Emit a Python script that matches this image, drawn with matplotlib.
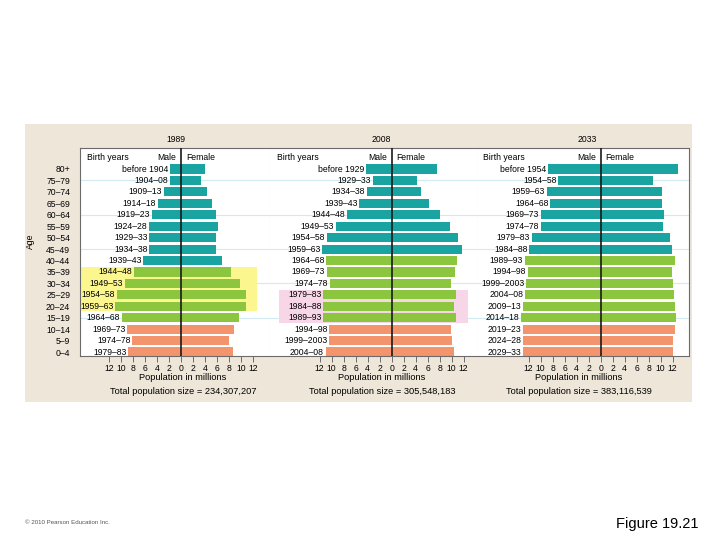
import matplotlib
matplotlib.use('Agg')
import matplotlib.pyplot as plt
from matplotlib.patches import Rectangle

plt.rcParams['font.family'] = ['Liberation Sans', 'DejaVu Sans']

# --- Data (millions of people) ---
ages = ['80+', '75–79', '70–74', '65–69', '60–64', '55–59', '50–54', '45–49', '40–44',
        '35–39', '30–34', '25–29', '20–24', '15–19', '10–14', '5–9', '0–4']

births_1989 = ['before 1904', '1904–08', '1909–13', '1914–18', '1919–23', '1924–28', '1929–33',
               '1934–38', '1939–43', '1944–48', '1949–53', '1954–58', '1959–63', '1964–68',
               '1969–73', '1974–78', '1979–83']
births_2008 = ['before 1929', '1929–33', '1934–38', '1939–43', '1944–48', '1949–53', '1954–58',
               '1959–63', '1964–68', '1969–73', '1974–78', '1979–83', '1984–88', '1989–93',
               '1994–98', '1999–2003', '2004–08']
births_2033 = ['before 1954', '1954–58', '1959–63', '1964–68', '1969–73', '1974–78', '1979–83',
               '1984–88', '1989–93', '1994–98', '1999–2003', '2004–08', '2009–13', '2014–18',
               '2019–23', '2024–28', '2029–33']

male_1989 = [1.8, 1.8, 2.9, 3.9, 4.9, 5.3, 5.3, 5.3, 6.3, 7.9, 9.4, 10.7, 11.0, 9.9, 9.0, 8.1, 8.8]
female_1989 = [4.0, 3.4, 4.4, 5.2, 5.8, 6.2, 5.9, 5.9, 6.8, 8.4, 9.8, 10.8, 10.8, 9.7, 8.8, 8.0, 8.7]

male_2008 = [4.3, 3.2, 4.2, 5.4, 7.5, 9.3, 10.8, 11.6, 10.9, 10.8, 10.3, 11.4, 11.4, 11.4, 10.4, 10.4, 11.0]
female_2008 = [7.5, 4.2, 4.8, 6.2, 8.1, 9.7, 11.1, 11.7, 10.8, 10.6, 9.9, 10.7, 10.4, 10.7, 9.9, 10.0, 10.4]

male_2033 = [8.8, 7.1, 9.0, 8.4, 10.0, 10.0, 11.5, 11.9, 12.7, 12.2, 12.4, 12.6, 12.9, 13.3, 13.0, 12.9, 12.9]
female_2033 = [12.8, 8.7, 10.2, 10.2, 10.6, 10.3, 11.6, 11.8, 12.4, 11.9, 12.0, 12.2, 12.4, 12.5, 12.3, 12.1, 12.1]

# cohort group of each row (colour key)
groups_1989 = ['old'] * 9 + ['mid'] * 5 + ['young'] * 3
groups_2008 = ['old'] * 8 + ['mid'] * 6 + ['young'] * 3
groups_2033 = ['old'] * 8 + ['mid'] * 6 + ['young'] * 3

years = ['1989', '2008', '2033']
totals = ['234,307,207', '305,548,183', '383,116,539']

# --- Style ---
COLORS = {'old': '#19A3A1', 'mid': '#8CC63E', 'young': '#F4946C'}
BEIGE = '#EFE6DA'
GRID = '#D2EAF1'
SPINE = '#6b6b6b'
FS = 6.7      # titles / bottom captions
FS_IN = 6.2   # labels inside the plot area

W, H = 720, 540


def fx(px):
    return px / W


def fy(py):
    return 1 - py / H


fig = plt.figure(figsize=(7.2, 5.4), dpi=100)
fig.patch.set_facecolor('white')

# beige panel behind everything
bg = fig.add_axes([fx(25), fy(402), 667 / W, 278 / H], zorder=-10)
bg.set_facecolor(BEIGE)
bg.set_xticks([])
bg.set_yticks([])
for s in bg.spines.values():
    s.set_visible(False)

# pixel layout of the three panels: left, right, zero line, title x, bottom text x
layout = [(80, 270, 181, 176, 183), (270, 478, 391.7, 381, 382), (478, 689, 600.7, 587, 579)]
top_px, bot_px = 148, 356
row0_px, row_step = 169, 11.44
px_per_m = 6.0

panels = [
    (births_1989, male_1989, female_1989, groups_1989),
    (births_2008, male_2008, female_2008, groups_2008),
    (births_2033, male_2033, female_2033, groups_2033),
]
highlights = {0: (9, 12, '#FCF68E'), 1: (11, 13, '#F7D6E8')}

n = len(ages)
rows = list(range(n))
ylo = 16 + (bot_px - (row0_px + 16 * row_step)) / row_step
yhi = -(row0_px - top_px) / row_step

for k, (births, male, female, groups) in enumerate(panels):
    x0, x1, zero, tx, bx = layout[k]
    ax = fig.add_axes([fx(x0), fy(bot_px), (x1 - x0) / W, (bot_px - top_px) / H])
    ax.set_facecolor('white')
    ax.set_xlim((x0 - zero) / px_per_m, (x1 - zero) / px_per_m)
    ax.set_ylim(ylo, yhi)

    # light gridlines
    for r in [1, 4, 7, 10, 13]:
        ax.axhline(r, color=GRID, lw=0.8, zorder=0)

    if k in highlights:
        a, b, c = highlights[k]
        left = ax.get_xlim()[0] if k == 0 else -18.8
        ax.add_patch(Rectangle((left, a - 0.45), 12.7 - left, b - a + 0.9,
                               facecolor=c, edgecolor='none', zorder=1))

    cols = [COLORS[g] for g in groups]
    ax.barh(rows, [-m for m in male], height=0.8, color=cols, zorder=2)
    ax.barh(rows, female, height=0.8, color=cols, zorder=2)
    ax.axvline(0, color='#1a1a1a', lw=1.2, zorder=3)

    for i, lab in enumerate(births):
        ax.text(-male[i] - 0.3, i, lab, ha='right', va='center', fontsize=FS_IN, zorder=4)

    lab_y = yhi + (158 - top_px) / row_step
    ax.text(-0.8, lab_y, 'Male', ha='right', va='center', fontsize=FS_IN)
    ax.text(0.8, lab_y, 'Female', ha='left', va='center', fontsize=FS_IN)
    ax.text(ax.get_xlim()[0] + (7 if k < 2 else 5) / px_per_m, lab_y, 'Birth years',
            ha='left', va='center', fontsize=FS_IN)

    # x axis
    ticks = list(range(-12, 13, 2))
    ax.set_xticks(ticks)
    ax.set_xticklabels([str(abs(t)) for t in ticks], fontsize=FS_IN)
    ax.tick_params(axis='x', direction='out', length=4, width=0.7, color=SPINE, pad=2)

    for side in ['top', 'bottom', 'left', 'right']:
        ax.spines[side].set_color(SPINE)
        ax.spines[side].set_linewidth(0.8)
    if k > 0:
        ax.spines['left'].set_visible(False)
    if k < 2:
        ax.spines['right'].set_color(GRID)

    if k == 0:
        ax.set_yticks(rows)
        ax.set_yticklabels(ages, fontsize=FS_IN)
        ax.tick_params(axis='y', length=0, pad=7)
        ax.set_yticks([1, 4, 7, 10, 13], minor=True)
        ax.tick_params(axis='y', which='minor', length=5, width=0.7, color=SPINE)
    else:
        ax.set_yticks([])

    fig.text(fx(tx), fy(140), years[k], ha='center', va='center', fontsize=FS_IN)
    fig.text(fx(bx), fy(378), 'Population in millions', ha='center', va='center', fontsize=FS)
    fig.text(fx(bx), fy(392), 'Total population size = ' + totals[k],
             ha='center', va='center', fontsize=FS)

fig.text(fx(30), fy(241), 'Age', rotation=90, ha='center', va='center', fontsize=FS_IN)
fig.text(fx(25), fy(523), '© 2010 Pearson Education Inc.', ha='left', va='center',
         fontsize=4.4, color='#555555')
fig.text(fx(698), fy(524), 'Figure 19.21', ha='right', va='center', fontsize=10.5)

fig.savefig('out.png', dpi=100)
